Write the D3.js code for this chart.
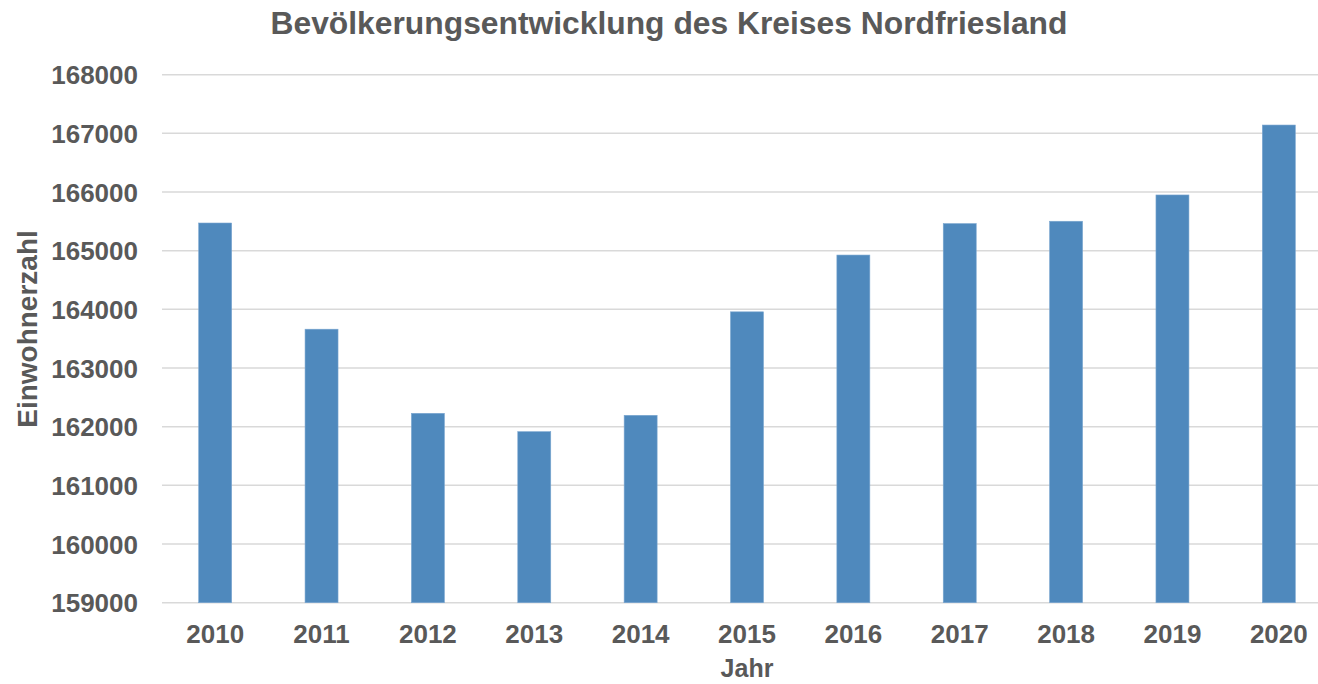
<!DOCTYPE html>
<html>
<head>
<meta charset="utf-8">
<script src="https://cdn.jsdelivr.net/npm/d3@7"></script>
<style>
  html, body { margin: 0; padding: 0; background: #ffffff; }
  svg { display: block; }
  text { font-family: "Liberation Sans", Arial, sans-serif; font-weight: bold; fill: #595959; }
</style>
</head>
<body>
<svg id="chart" width="1318" height="684"></svg>
<script>
const years = ["2010","2011","2012","2013","2014","2015","2016","2017","2018","2019","2020"];
const population = [165472, 163662, 162228, 161915, 162194, 163958, 164926, 165462, 165502, 165950, 167142];
const yTicks = [159000, 160000, 161000, 162000, 163000, 164000, 165000, 166000, 167000, 168000];
const titleText = "Bevölkerungsentwicklung des Kreises Nordfriesland";
const xTitle = "Jahr";
const yTitle = "Einwohnerzahl";

const svg = d3.select("#chart");

const x = d3.scaleBand().domain(years).range([162, 1332]).paddingInner(0.69).paddingOuter(0.345);
const y = d3.scaleLinear().domain([159000, 168000]).range([602.7, 74.7]);

// gridlines
svg.append("g")
  .selectAll("line")
  .data(yTicks)
  .join("line")
  .attr("x1", 162).attr("x2", 1332)
  .attr("y1", d => y(d)).attr("y2", d => y(d))
  .attr("stroke", "#d9d9d9").attr("stroke-width", 1.5);

// bars
svg.append("g")
  .selectAll("rect")
  .data(years.map((yr, i) => ({yr, v: population[i]})))
  .join("rect")
  .attr("x", d => x(d.yr))
  .attr("width", x.bandwidth())
  .attr("y", d => y(d.v))
  .attr("height", d => y(159000) - y(d.v))
  .attr("fill", "#4f89bd")
  .attr("stroke", "#7aa6d0").attr("stroke-width", 0.6);

// y axis
const yAxis = d3.axisLeft(y).tickValues(yTicks).tickFormat(d3.format("d")).tickSize(0).tickPadding(24);
const gy = svg.append("g").attr("transform", "translate(162,0)").call(yAxis);
gy.select(".domain").remove();
gy.selectAll("text").style("font-size", "26px").style("font-family", "'Liberation Sans', Arial, sans-serif").style("font-weight", "bold").attr("fill", "#595959").attr("dy", "0.35em");

// x axis
const xAxis = d3.axisBottom(x).tickSize(0).tickPadding(22);
const gx = svg.append("g").attr("transform", "translate(0,602.7)").call(xAxis);
gx.select(".domain").remove();
gx.selectAll("text").style("font-size", "26px").style("font-family", "'Liberation Sans', Arial, sans-serif").style("font-weight", "bold").attr("fill", "#595959");

// titles
svg.append("text").attr("x", 669).attr("y", 34).attr("text-anchor", "middle")
  .style("font-size", "31.8px").text(titleText);
svg.append("text").attr("x", 747).attr("y", 677).attr("text-anchor", "middle")
  .style("font-size", "25px").text(xTitle);
svg.append("text").attr("transform", "translate(37,329) rotate(-90)").attr("text-anchor", "middle")
  .style("font-size", "28px").text(yTitle);
</script>
</body>
</html>
